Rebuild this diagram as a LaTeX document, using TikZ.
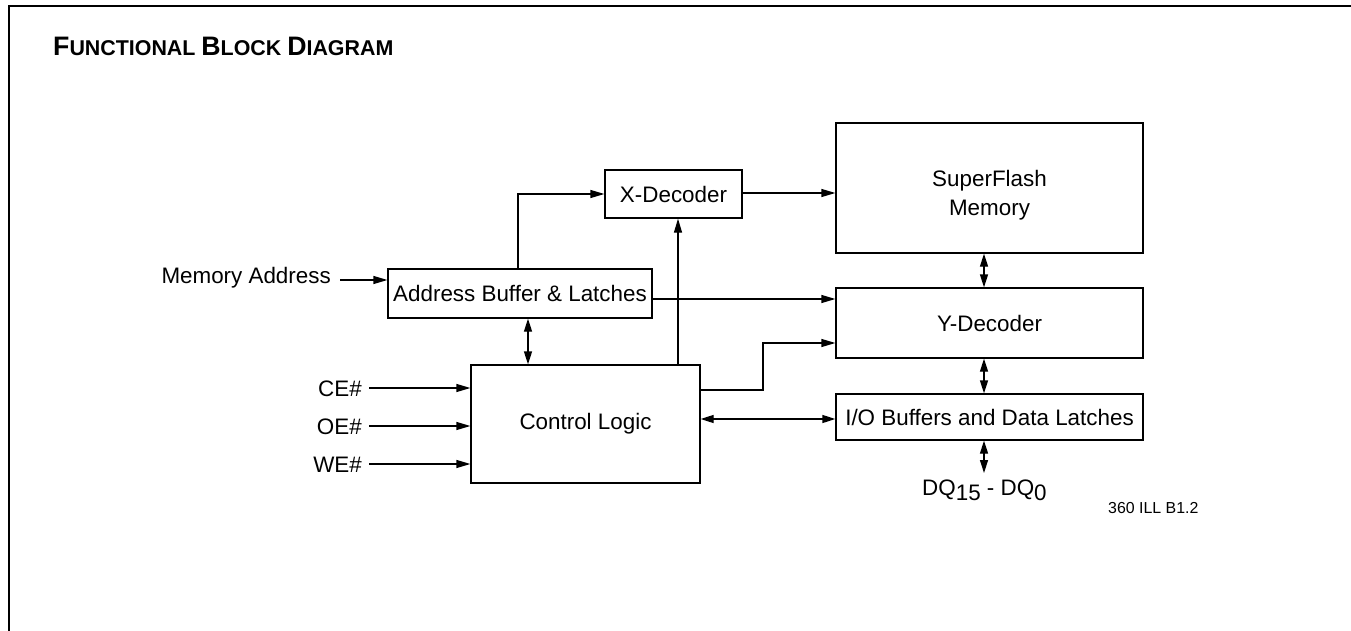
\documentclass[tikz,border=0pt]{standalone}
\usepackage{fontspec}
\setmainfont{Liberation Sans}
\usetikzlibrary{arrows.meta}
\tikzset{
  blk/.style={draw, line width=1.3pt, inner sep=0pt, align=center, font=\fontsize{22.4}{29}\selectfont},
  lbl/.style={inner sep=0pt, font=\fontsize{22.4}{27}\selectfont},
  conn/.style={line width=1.3pt},
  arr/.style={conn, -{Triangle[length=14pt,width=8pt]}},
  darr/.style={conn, {Triangle[length=13pt,width=8pt]}-{Triangle[length=13pt,width=8pt]}},
}
\begin{document}
\begin{tikzpicture}[x=1pt,y=-1pt]
\useasboundingbox (0,0) rectangle (1351,631);
% frame
\draw[line width=2.2pt] (9,631) -- (9,6) -- (1351,6);
% title
\node[anchor=base west, inner sep=0pt] (title) at (53,56) {\bfseries{\fontsize{26.7}{30}\selectfont F}{\fontsize{21.4}{24}\selectfont UNCTIONAL }{\fontsize{26.7}{30}\selectfont B}{\fontsize{21.4}{24}\selectfont LOCK }{\fontsize{26.7}{30}\selectfont D}{\fontsize{21.4}{24}\selectfont IAGRAM}};
% blocks
\node[blk, minimum width=264pt, minimum height=49pt] (addr) at (520,293.5) {Address Buffer \& Latches};
\node[blk, minimum width=137pt, minimum height=48pt] (xdec) at (673.5,194) {X-Decoder};
\node[blk, minimum width=307pt, minimum height=130pt] (mem) at (989.5,188) {\rule{0pt}{30pt}SuperFlash\\Memory};
\node[blk, minimum width=307pt, minimum height=70pt] (ydec) at (989.5,323) {Y-Decoder};
\node[blk, minimum width=307pt, minimum height=46pt] (io) at (989.5,417) {I/O Buffers and Data Latches};
\node[blk, minimum width=229pt, minimum height=118pt] (ctrl) at (585.5,424) {Control Logic};
% labels
\node[lbl, anchor=base east] (madr) at (331,283) {Memory Address};
\node[lbl, anchor=base east] (ce) at (362,396) {CE\#};
\node[lbl, anchor=base east] (oe) at (362,434) {OE\#};
\node[lbl, anchor=base east] (we) at (362,472) {WE\#};
\node[lbl, anchor=base west] (dq) at (922,495) {DQ\raisebox{-5pt}{15} - DQ\raisebox{-5pt}{0}};
\node[inner sep=0pt, anchor=base west, font=\fontsize{15.9}{19}\selectfont] (ill) at (1108,513) {360 ILL B1.2};
% free ends
\coordinate (madrE) at (340,280);
\coordinate (ceE) at (369,388);
\coordinate (oeE) at (369,426);
\coordinate (weE) at (369,464);
\coordinate (colx) at (984,0);
\coordinate (dqT) at (984,473);
% connectors
\draw[arr] (madrE) -- (addr.west |- madrE);
\draw[arr] (ceE) -- (ctrl.west |- ceE);
\draw[arr] (oeE) -- (ctrl.west |- oeE);
\draw[arr] (weE) -- (ctrl.west |- weE);
\draw[arr] (518,0 |- addr.north) -- (518,194) -- (xdec.west |- 0,194);
\draw[arr] (xdec.east |- 0,193) -- (mem.west |- 0,193);
\draw[arr] (678,0 |- ctrl.north) -- (678,0 |- xdec.south);
\draw[darr] (528,0 |- addr.south) -- (528,0 |- ctrl.north);
\draw[arr] (addr.east |- 0,299) -- (ydec.west |- 0,299);
\draw[arr] (ctrl.east |- 0,390) -- (763,390) -- (763,343) -- (ydec.west |- 0,343);
\draw[darr] (ctrl.east |- 0,419) -- (io.west |- 0,419);
\draw[darr] (colx |- mem.south) -- (colx |- ydec.north);
\draw[darr] (colx |- ydec.south) -- (colx |- io.north);
\draw[darr] (colx |- io.south) -- (dqT);
\end{tikzpicture}
\end{document}
